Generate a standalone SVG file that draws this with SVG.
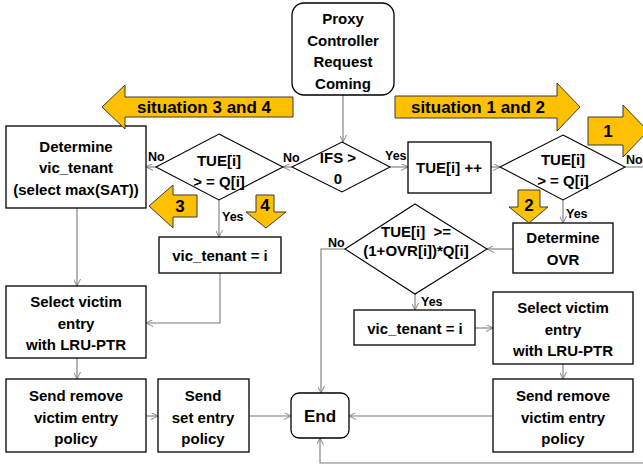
<svg xmlns="http://www.w3.org/2000/svg" width="643" height="466" viewBox="0 0 643 466">
  <style>
    .box { fill: #fff; stroke: #000; stroke-width: 1.3; }
    .dia { fill: #fff; stroke: #000; stroke-width: 1.1; }
    .t { font-family: "Liberation Sans", Arial, sans-serif; font-weight: bold; font-size: 15px; fill: #000; text-anchor: middle; white-space: pre; }
    .lbl { font-family: "Liberation Sans", Arial, sans-serif; font-weight: bold; font-size: 12.5px; fill: #000; }
    .big { font-family: "Liberation Sans", Arial, sans-serif; font-weight: bold; font-size: 17px; fill: #000; text-anchor: middle; }
    .cn { fill: none; stroke: #7a7a7a; stroke-width: 1.1; marker-end: url(#arr); }
    .ya { fill: #FFC000; stroke: #3a3a3a; stroke-width: 1; }
  </style>
  <defs>
    <marker id="arr" viewBox="0 0 10 10" refX="10" refY="5" markerWidth="7" markerHeight="7" orient="auto" markerUnits="userSpaceOnUse">
      <path d="M0,0 L10,5 L0,10" fill="none" stroke="#7a7a7a" stroke-width="1.3"/>
    </marker>
  </defs>
  <rect width="643" height="466" fill="#fff"/>

  <!-- connectors -->
  <g id="connectors">
    <path class="cn" d="M343,95 V142"/>
    <path class="cn" d="M292,167 H283"/>
    <path class="cn" d="M156,167 H146"/>
    <path class="cn" d="M390,167 H408"/>
    <path class="cn" d="M491,167 H500"/>
    <path class="cn" d="M563,200 V223"/>
    <path class="cn" d="M513,249 H487"/>
    <path class="cn" d="M219,200 V237"/>
    <path class="cn" d="M77,208 V286"/>
    <path class="cn" d="M220,273 V323 H146"/>
    <path class="cn" d="M77,358 V379"/>
    <path class="cn" d="M146,416 H158"/>
    <path class="cn" d="M249,416 H291"/>
    <path class="cn" d="M345,249 H321 V393"/>
    <path class="cn" d="M415,294 V310"/>
    <path class="cn" d="M475,328 H493"/>
    <path class="cn" d="M563,364 V379"/>
    <path class="cn" d="M493,416 H349"/>
    <path class="cn" d="M625,167 H660 V463 H320 V438"/>
  </g>

  <!-- branch labels -->
  <g id="labels">
    <text class="lbl" x="148" y="161">No</text>
    <text class="lbl" x="283" y="162">No</text>
    <text class="lbl" x="385" y="160">Yes</text>
    <text class="lbl" x="626" y="164">No</text>
    <text class="lbl" x="566" y="218">Yes</text>
    <text class="lbl" x="222" y="221">Yes</text>
    <text class="lbl" x="328" y="247">No</text>
    <text class="lbl" x="421" y="306">Yes</text>
  </g>

  <g id="start">
    <rect class="box" x="292" y="3" width="102" height="92" rx="12"/>
    <text class="t" x="343" y="24">Proxy</text>
    <text class="t" x="343" y="46">Controller</text>
    <text class="t" x="343" y="67">Request</text>
    <text class="t" x="343" y="89">Coming</text>
  </g>

  <g id="ifs">
    <polygon class="dia" points="342,142 390,167 342,192 292,167"/>
    <text class="t" x="338" y="163">IFS &gt;</text>
    <text class="t" x="338" y="184">0</text>
  </g>

  <g id="check-left">
    <polygon class="dia" points="219,134 283,167 219,200 156,167"/>
    <text class="t" x="219" y="166">TUE[i]</text>
    <text class="t" x="219" y="187">&gt; = Q[i]</text>
  </g>

  <g id="determine-vic">
    <rect class="box" x="6" y="126" width="140" height="82"/>
    <text class="t" x="76" y="152">Determine</text>
    <text class="t" x="76" y="173">vic_tenant</text>
    <text class="t" x="76" y="195">(select max(SAT))</text>
  </g>

  <g id="tue-inc">
    <rect class="box" x="408" y="142" width="83" height="51"/>
    <text class="t" x="449" y="173">TUE[i] ++</text>
  </g>

  <g id="check-right">
    <polygon class="dia" points="563,135 625,167 563,200 500,167"/>
    <text class="t" x="563" y="165">TUE[i]</text>
    <text class="t" x="563" y="186">&gt; = Q[i]</text>
  </g>

  <g id="determine-ovr">
    <rect class="box" x="513" y="223" width="100" height="50"/>
    <text class="t" x="563" y="243">Determine</text>
    <text class="t" x="563" y="265">OVR</text>
  </g>

  <g id="check-ovr">
    <polygon class="dia" points="415,204 487,249 415,294 345,249"/>
    <text class="t" x="416" y="237" xml:space="preserve">TUE[i]  &gt;=</text>
    <text class="t" x="416" y="256">(1+OVR[i])*Q[i]</text>
  </g>

  <g id="vic-left">
    <rect class="box" x="159" y="237" width="122" height="36"/>
    <text class="t" x="220" y="261">vic_tenant = i</text>
  </g>

  <g id="select-left">
    <rect class="box" x="6" y="286" width="140" height="72"/>
    <text class="t" x="76" y="307">Select victim</text>
    <text class="t" x="76" y="329">entry</text>
    <text class="t" x="76" y="350">with LRU-PTR</text>
  </g>

  <g id="remove-left">
    <rect class="box" x="6" y="379" width="140" height="73"/>
    <text class="t" x="76" y="401">Send remove</text>
    <text class="t" x="76" y="423">victim entry</text>
    <text class="t" x="76" y="444">policy</text>
  </g>

  <g id="set-entry">
    <rect class="box" x="158" y="379" width="91" height="73"/>
    <text class="t" x="203" y="401">Send</text>
    <text class="t" x="203" y="423">set entry</text>
    <text class="t" x="203" y="444">policy</text>
  </g>

  <g id="end">
    <rect class="box" x="291" y="393" width="58" height="45" rx="8"/>
    <text class="big" x="320" y="422">End</text>
  </g>

  <g id="vic-right">
    <rect class="box" x="354" y="310" width="121" height="35"/>
    <text class="t" x="415" y="334">vic_tenant = i</text>
  </g>

  <g id="select-right">
    <rect class="box" x="493" y="292" width="140" height="72"/>
    <text class="t" x="563" y="313">Select victim</text>
    <text class="t" x="563" y="335">entry</text>
    <text class="t" x="563" y="356">with LRU-PTR</text>
  </g>

  <g id="remove-right">
    <rect class="box" x="493" y="379" width="140" height="73"/>
    <text class="t" x="563" y="401">Send remove</text>
    <text class="t" x="563" y="423">victim entry</text>
    <text class="t" x="563" y="444">policy</text>
  </g>

  <!-- block arrows marking the situations -->
  <g id="situation-34">
    <polygon class="ya" points="102,107 125,85 125,97 293,97 293,117 125,117 125,129"/>
    <text class="big" x="204" y="113">situation 3 and 4</text>
  </g>
  <g id="situation-12">
    <polygon class="ya" points="580,107 557,83 557,96 395,96 395,118 557,118 557,131"/>
    <text class="big" x="478" y="113">situation 1 and 2</text>
  </g>
  <g id="situation-1">
    <polygon class="ya" points="588,117 623,117 623,105 648,131 623,157 623,145 588,145"/>
    <text class="big" x="608" y="137">1</text>
  </g>
  <g id="situation-2">
    <polygon class="ya" points="518,190 540,190 540,207 548,207 529,223 509,207 518,207"/>
    <text class="big" x="529" y="211">2</text>
  </g>
  <g id="situation-3">
    <polygon class="ya" points="197,195 197,217 173,217 173,228 149,206 173,185 173,195"/>
    <text class="big" x="180" y="212">3</text>
  </g>
  <g id="situation-4">
    <polygon class="ya" points="256,195 274,195 274,212 286,212 266,228 246,212 256,212"/>
    <text class="big" x="265" y="211">4</text>
  </g>
</svg>
